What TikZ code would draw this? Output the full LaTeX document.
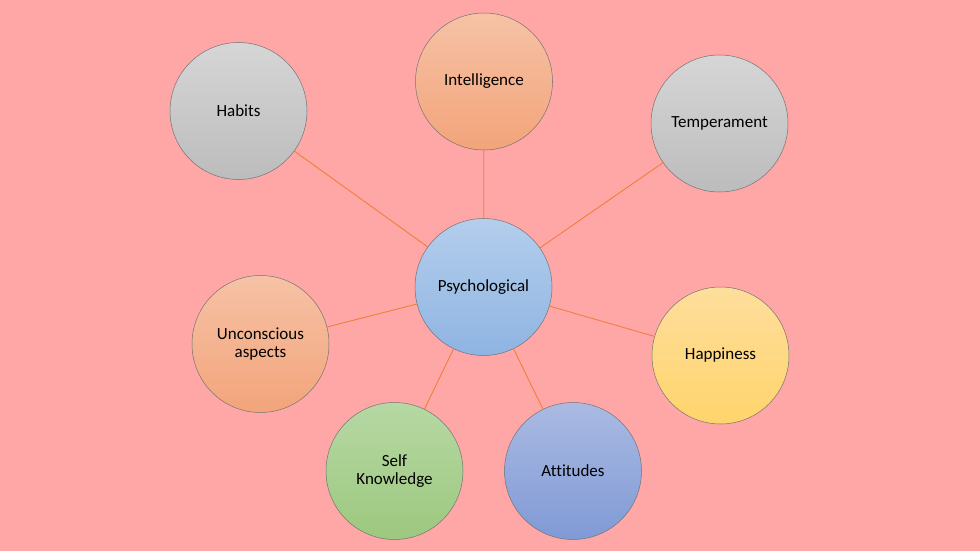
\documentclass[tikz,border=0pt]{standalone}
\usepackage{fontspec}
\setmainfont{Carlito}[Ligatures=NoCommon]
\definecolor{bgpink}{RGB}{255,166,166}
\definecolor{linkorange}{RGB}{237,125,49}
\definecolor{grayT}{RGB}{214,214,214}\definecolor{grayB}{RGB}{188,188,188}
\definecolor{orT}{RGB}{246,194,166}\definecolor{orB}{RGB}{243,164,122}
\definecolor{blT}{RGB}{180,206,236}\definecolor{blB}{RGB}{143,180,226}
\definecolor{yeT}{RGB}{254,222,156}\definecolor{yeB}{RGB}{255,212,108}
\definecolor{grT}{RGB}{182,216,164}\definecolor{grB}{RGB}{157,200,126}
\definecolor{viT}{RGB}{170,186,226}\definecolor{viB}{RGB}{128,154,214}
\tikzset{
  bubble/.style={circle, minimum size=137pt, inner sep=0pt, draw=black!55, line width=0.5pt,
    align=center, font=\fontsize{17}{18}\selectfont, text=black},
  gray bubble/.style={bubble, top color=grayT, bottom color=grayB},
  orange bubble/.style={bubble, top color=orT, bottom color=orB},
  blue bubble/.style={bubble, top color=blT, bottom color=blB},
  yellow bubble/.style={bubble, top color=yeT, bottom color=yeB},
  green bubble/.style={bubble, top color=grT, bottom color=grB},
  violet bubble/.style={bubble, top color=viT, bottom color=viB},
  link/.style={draw=linkorange, line width=0.8pt}
}
\begin{document}
\begin{tikzpicture}[x=1pt,y=-1pt]
\useasboundingbox (0,0) rectangle (980,551);
\fill[bgpink] (0,0) rectangle (980,551);
\node[blue bubble] (psy) at (483.5,287) {Psychological};
\node[gray bubble] (hab) at (238.5,111) {Habits};
\node[orange bubble] (int) at (484,81.5) {Intelligence};
\node[gray bubble] (tem) at (719.5,123.5) {Temperament};
\node[orange bubble] (unc) at (260.5,344) {Unconscious\\aspects};
\node[yellow bubble] (hap) at (720.5,355.5) {Happiness};
\node[green bubble] (sel) at (394.5,471) {Self\\Knowledge};
\node[violet bubble] (att) at (573,471) {Attitudes};
\foreach \n in {hab,int,tem,unc,hap,sel,att}
  \draw[link] (psy) -- (\n);
\end{tikzpicture}
\end{document}
